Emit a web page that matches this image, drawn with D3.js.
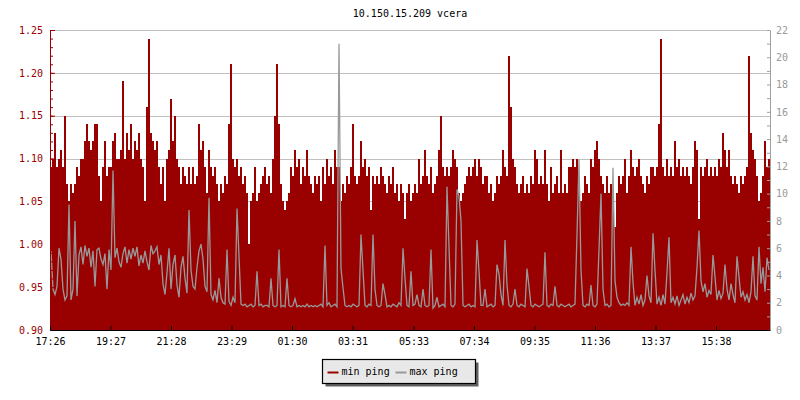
<!DOCTYPE html>
<html>
<head>
<meta charset="utf-8">
<script src="https://cdn.jsdelivr.net/npm/d3@7/dist/d3.min.js"></script>
<style>
  body { margin: 0; background: #fff; }
  text { font-family: "DejaVu Sans Mono", monospace; font-size: 10px; }
</style>
</head>
<body>
<div id="myChart"></div>
<script>
// Samples: one every 4 minutes, starting 17:26
let sampleMinutes = 4;

let minPing = [
  1.09,1.10,1.13,1.09,1.10,1.11,1.09,1.15,1.07,1.05,1.07,1.06,
  1.07,1.09,1.08,1.10,1.10,1.12,1.14,1.12,1.11,1.12,1.14,1.14,
  1.08,1.05,1.09,1.12,1.08,1.09,1.09,1.12,1.13,1.10,1.10,1.11,
  1.19,1.10,1.13,1.11,1.14,1.10,1.12,1.11,1.13,1.10,1.09,1.05,
  1.16,1.24,1.13,1.12,1.11,1.12,1.09,1.07,1.09,1.05,1.10,1.11,
  1.17,1.12,1.15,1.10,1.09,1.07,1.09,1.08,1.07,1.09,1.07,1.09,
  1.07,1.08,1.14,1.11,1.12,1.09,1.06,1.11,1.09,1.08,1.09,1.07,
  1.05,1.07,1.06,1.08,1.07,1.14,1.21,1.10,1.09,1.10,1.08,1.09,
  1.07,1.08,1.06,1.00,1.05,1.06,1.09,1.05,1.06,1.07,1.08,1.09,
  1.07,1.08,1.06,1.10,1.15,1.21,1.14,1.07,1.05,1.04,1.05,1.06,
  1.09,1.08,1.11,1.09,1.10,1.07,1.09,1.08,1.11,1.08,1.07,1.06,
  1.08,1.07,1.08,1.05,1.09,1.07,1.10,1.08,1.09,1.07,1.11,1.09,
  1.09,1.05,1.07,1.06,1.08,1.07,1.09,1.14,1.08,1.07,1.08,1.12,
  1.09,1.10,1.08,1.09,1.04,1.08,1.07,1.08,1.07,1.09,1.08,1.07,
  1.06,1.08,1.07,1.09,1.06,1.07,1.05,1.07,1.06,1.03,1.06,1.07,
  1.05,1.06,1.07,1.06,1.10,1.07,1.08,1.11,1.08,1.07,1.09,1.06,
  1.07,1.08,1.11,1.15,1.09,1.08,1.09,1.08,1.09,1.11,1.10,1.09,
  1.06,1.05,1.06,1.07,1.08,1.09,1.08,1.09,1.10,1.08,1.10,1.09,
  1.07,1.08,1.08,1.06,1.07,1.05,1.06,1.08,1.07,1.08,1.11,1.09,
  1.08,1.22,1.16,1.10,1.09,1.07,1.06,1.07,1.08,1.06,1.07,1.06,
  1.08,1.07,1.11,1.10,1.07,1.08,1.07,1.11,1.07,1.05,1.09,1.06,
  1.07,1.08,1.06,1.11,1.06,1.07,1.06,1.09,1.09,1.10,1.09,1.10,
  1.07,1.05,1.06,1.08,1.07,1.06,1.10,1.09,1.11,1.12,1.10,1.08,
  1.07,1.06,1.08,1.06,1.07,1.06,1.02,1.06,1.08,1.07,1.08,1.10,
  1.06,1.08,1.11,1.09,1.08,1.09,1.10,1.08,1.07,1.06,1.08,1.07,
  1.09,1.09,1.08,1.09,1.14,1.24,1.09,1.08,1.10,1.08,1.09,1.08,
  1.12,1.09,1.10,1.08,1.09,1.08,1.09,1.08,1.07,1.09,1.12,1.11,
  1.03,1.09,1.08,1.09,1.10,1.08,1.09,1.08,1.09,1.08,1.10,1.09,
  1.13,1.11,1.09,1.11,1.08,1.07,1.08,1.07,1.06,1.08,1.07,1.08,
  1.09,1.22,1.13,1.11,1.10,1.08,1.05,1.06,1.08,1.12,1.09,1.10
];

let maxPing = [
  5.8,3.0,2.6,3.2,6.0,5.2,3.0,2.2,2.5,9.2,2.2,3.0,
  8.0,2.5,5.5,6.1,4.8,6.2,5.4,6.0,4.6,5.8,3.2,5.9,
  6.0,5.2,4.8,5.6,3.0,5.9,4.4,11.7,5.3,6.0,5.0,4.6,
  5.6,6.1,4.9,5.9,5.2,6.0,5.4,6.1,4.7,5.5,4.9,5.8,
  5.0,4.4,6.2,5.6,5.8,6.1,4.8,5.5,3.4,2.6,4.2,6.0,
  3.0,4.8,5.5,3.3,2.4,4.6,5.4,3.8,2.7,8.8,4.4,3.2,
  3.0,4.6,5.8,6.3,5.2,3.2,2.8,9.7,2.6,2.2,2.9,2.0,
  3.8,2.4,2.0,1.9,5.9,2.1,1.8,2.4,2.0,8.9,5.4,1.9,
  1.8,1.9,1.7,1.8,1.9,1.7,1.8,4.3,1.8,1.9,1.7,1.8,
  1.8,1.7,3.8,1.8,1.7,1.8,5.9,1.7,1.8,1.7,3.8,1.8,
  1.7,1.8,2.3,1.7,1.8,1.7,1.8,1.7,1.9,1.7,1.8,1.7,
  1.8,1.7,1.8,1.9,1.7,6.2,1.8,2.0,1.7,1.8,1.9,1.7,
  21.0,4.5,3.1,1.8,1.7,1.8,1.7,1.9,1.8,1.7,1.8,7.0,
  4.4,1.8,1.7,1.9,1.8,7.0,3.0,1.8,1.7,1.8,3.4,2.6,
  1.7,1.8,1.7,1.9,1.8,1.7,2.0,1.8,6.0,3.8,1.8,1.7,
  4.3,1.8,1.9,2.6,1.8,1.7,3.0,1.8,1.7,1.8,5.9,1.6,
  1.8,2.4,1.7,1.8,1.9,1.7,10.5,6.1,1.8,1.7,1.9,10.3,
  9.8,8.0,1.8,1.7,1.8,1.9,1.7,1.8,1.7,6.6,4.3,1.8,
  1.8,3.0,1.7,1.8,1.9,1.7,1.8,4.8,4.1,2.6,1.8,6.6,
  3.3,1.8,1.7,1.9,3.0,1.8,1.7,1.9,1.8,1.7,4.5,3.2,
  1.8,1.7,1.9,1.8,1.7,1.8,1.9,5.7,1.8,1.7,1.9,1.8,
  3.2,1.8,1.7,1.9,1.8,1.7,1.8,1.9,1.7,1.8,1.9,7.0,
  12.5,4.4,1.8,1.7,1.9,1.8,3.3,1.8,1.7,1.9,5.9,10.0,
  3.0,1.8,1.9,1.7,1.8,11.9,3.6,2.4,2.0,1.8,1.9,1.8,
  2.0,1.8,6.1,3.5,1.8,2.4,1.9,2.6,1.8,2.2,4.0,2.5,
  2.0,7.1,4.4,1.9,2.4,1.8,2.6,1.9,4.2,6.8,2.0,2.4,
  1.9,2.5,1.8,2.2,2.6,1.9,2.4,2.0,2.7,2.2,2.5,4.6,
  7.3,3.6,2.8,3.4,2.4,2.9,2.6,5.5,3.9,2.2,2.9,2.3,
  2.7,4.8,3.0,2.2,3.4,2.6,2.0,5.4,3.9,2.4,2.8,2.2,
  2.6,2.0,2.8,5.4,2.5,2.2,6.1,3.4,4.6,2.8,5.3,4.4
];

let timeLabels = ["17:26", "19:27", "21:28", "23:29", "01:30", "03:31",
  "05:33", "07:34", "09:35", "11:36", "13:37", "15:38"];

let leftTicks = [0.90, 0.95, 1.00, 1.05, 1.10, 1.15, 1.20, 1.25];
let rightTicks = [0, 2, 4, 6, 8, 10, 12, 14, 16, 18, 20, 22];

// Set the dimensions and margins of the graph
let margin = { top: 30, right: 30, bottom: 70, left: 50 },
  width = 800 - margin.left - margin.right,
  height = 400 - margin.top - margin.bottom;

let svg = d3
  .select("#myChart")
  .append("svg")
  .attr("width", width + margin.left + margin.right)
  .attr("height", height + margin.top + margin.bottom)
  .append("g")
  .attr("transform", `translate(${margin.left}, ${margin.top})`);

let start = new Date(2024, 0, 1, 17, 26);
let minute = 60000;
let step = sampleMinutes * minute;
let end = new Date(+start + minPing.length * step);

// min ping: each sample holds until the next one (step area)
let minData = minPing.map((v, i) => ({ t: new Date(+start + i * step), v: v }));
minData.push({ t: end, v: minPing[minPing.length - 1] });

// max ping: plotted at the middle of each sample
let maxData = maxPing.map((v, i) => ({ t: new Date(+start + i * step + step / 2), v: v }));

// Tick dates from the labels (after midnight is the next day)
let tickDates = timeLabels.map((s) => {
  let [h, m] = s.split(":").map(Number);
  let d = new Date(2024, 0, 1, h, m);
  if (h < 17) d = new Date(+d + 24 * 60 * minute);
  return d;
});

// Scales
let x = d3.scaleTime().domain([start, end]).range([0, width]);
let yL = d3.scaleLinear().domain([0.9, 1.25]).range([height, 0]);
let yR = d3.scaleLinear().domain([0, 22]).range([height, 0]);

// Gridlines (behind the data)
svg
  .append("g")
  .selectAll("line")
  .data(leftTicks)
  .enter()
  .append("line")
  .attr("x1", 0)
  .attr("x2", width)
  .attr("y1", (d) => Math.round(yL(d)) + 0.5)
  .attr("y2", (d) => Math.round(yL(d)) + 0.5)
  .attr("stroke", "#c0c0c0");

// min ping as a stepped area
svg
  .append("path")
  .datum(minData)
  .attr("fill", "#990000")
  .attr("shape-rendering", "crispEdges")
  .attr(
    "d",
    d3
      .area()
      .curve(d3.curveStepAfter)
      .x((d) => x(d.t))
      .y0(height)
      .y1((d) => yL(d.v))
  );

// max ping line on the right axis
svg
  .append("path")
  .datum(maxData)
  .attr("fill", "none")
  .attr("stroke", "#999999")
  .attr("stroke-width", 1.3)
  .attr("stroke-linejoin", "miter")
  .attr(
    "d",
    d3
      .line()
      .x((d) => x(d.t))
      .y((d) => yR(d.v))
  );

// Left axis: minor ticks every 0.01
let minorL = d3.range(90, 126).map((d) => d / 100);
svg
  .append("g")
  .call(d3.axisRight(yL).tickValues(minorL).tickSize(3).tickSizeOuter(0).tickFormat(""))
  .call((g) => g.selectAll("line").attr("stroke", "#990000"))
  .call((g) => g.select(".domain").attr("stroke", "#990000"));

let leftAxis = svg
  .append("g")
  .call(
    d3.axisLeft(yL).tickValues(leftTicks).tickSize(-5).tickSizeOuter(0)
      .tickPadding(7).tickFormat(d3.format(".2f"))
  );
leftAxis.selectAll("line").attr("stroke", "#990000");
leftAxis.select(".domain").attr("stroke", "#990000");
leftAxis
  .selectAll(".tick text")
  .style("fill", "#990000")
  .style("font-family", '"DejaVu Sans Mono", monospace')
  .style("font-size", "10px");

// Right axis: ticks every 1, labels every 2
let minorR = d3.range(0, 23);
svg
  .append("g")
  .attr("transform", `translate(${width},0)`)
  .call(d3.axisLeft(yR).tickValues(minorR).tickSize(3).tickSizeOuter(0).tickFormat(""))
  .call((g) => g.selectAll("line").attr("stroke", "#a0a0a0"))
  .call((g) => g.select(".domain").attr("stroke", "#a0a0a0"));

let rightAxis = svg
  .append("g")
  .attr("transform", `translate(${width},0)`)
  .call(d3.axisRight(yR).tickValues(rightTicks).tickSize(0).tickSizeOuter(0).tickPadding(6));
rightAxis.select(".domain").attr("stroke", "none");
rightAxis
  .selectAll(".tick text")
  .style("fill", "#999999")
  .style("font-family", '"DejaVu Sans Mono", monospace')
  .style("font-size", "10px");

// X axis
let xAxis = svg
  .append("g")
  .attr("transform", `translate(0,${height})`)
  .call(
    d3.axisBottom(x).tickValues(tickDates).tickSize(-4).tickSizeOuter(0)
      .tickPadding(8).tickFormat(d3.timeFormat("%H:%M"))
  );
xAxis.selectAll("line").attr("stroke", "#000");
xAxis.select(".domain").attr("stroke", "#000");
xAxis
  .selectAll(".tick text")
  .style("fill", "#000")
  .style("font-family", '"DejaVu Sans Mono", monospace')
  .style("font-size", "10px");

// Title
svg
  .append("text")
  .attr("x", width / 2)
  .attr("y", -13)
  .style("text-anchor", "middle")
  .style("fill", "#000")
  .text("10.150.15.209 vcera");

// Legend with drop shadow
let legend = svg
  .append("g")
  .attr("transform", `translate(${322.5 - margin.left}, ${359.5 - margin.top})`);

legend.append("rect").attr("x", 3).attr("y", 3).attr("width", 153).attr("height", 24).attr("fill", "#606060");
legend
  .append("rect")
  .attr("width", 153)
  .attr("height", 24)
  .attr("fill", "#e8e8e8")
  .attr("stroke", "#000")
  .attr("stroke-width", 1.2);

legend.append("rect").attr("x", 5).attr("y", 12).attr("width", 11).attr("height", 2).attr("fill", "#990000");
legend.append("text").attr("x", 19).attr("y", 15).text("min ping");
legend.append("rect").attr("x", 73).attr("y", 12).attr("width", 11).attr("height", 2).attr("fill", "#999999");
legend.append("text").attr("x", 87).attr("y", 15).text("max ping");
</script>
</body>
</html>
